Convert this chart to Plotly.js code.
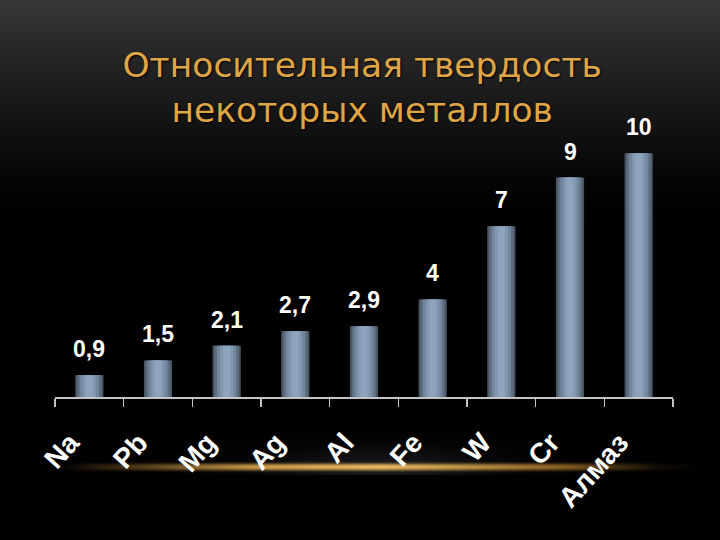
<!DOCTYPE html>
<html>
<head>
<meta charset="utf-8">
<script src="https://cdn.plot.ly/plotly-3.0.1.min.js"></script>
<style>
  html, body { margin:0; padding:0; width:720px; height:540px; overflow:hidden; background:#000; }
  #bg { position:absolute; left:0; top:0; width:720px; height:540px;
        background: linear-gradient(to bottom, #363636 0px, #1c1c1c 90px, #050505 175px, #000 220px); }
  #haze { position:absolute; left:150px; top:405px; width:460px; height:70px;
          background: radial-gradient(ellipse 50% 60% at 50% 90%, rgba(80,80,80,0.35), rgba(35,35,35,0.12) 60%, rgba(0,0,0,0) 100%); }
  #glow { position:absolute; left:60px; top:464px; width:640px; height:6px;
          background: linear-gradient(to right, rgba(120,80,20,0) 0%, rgba(150,105,40,0.45) 10%, rgba(225,170,80,0.9) 30%, rgba(240,190,100,1) 50%, rgba(200,140,50,0.7) 78%, rgba(100,70,20,0.2) 93%, rgba(0,0,0,0) 100%);
          filter: blur(1.5px); }
  #plot { position:absolute; left:0; top:0; width:720px; height:540px; }
</style>
</head>
<body>
<div id="bg"></div>
<div id="haze"></div>
<div id="glow"></div>
<div id="plot"></div>
<script>
// ---- data ----
const categories = ["Na", "Pb", "Mg", "Ag", "Al", "Fe", "W", "Cr", "Алмаз"];
const hardness   = [0.9, 1.5, 2.1, 2.7, 2.9, 4, 7, 9, 10];
const titleLines = ["Относительная твердость", "некоторых металлов"];

// ---- metallic bar look: overlaid bars of decreasing width ----
const layers = [
  {w: 0.41, c: "#4b5665"},
  {w: 0.35, c: "#5f6f82"},
  {w: 0.28, c: "#72869d"},
  {w: 0.19, c: "#8297b0"},
  {w: 0.10, c: "#8ea4bd"}
];
const traces = layers.map(l => ({
  type: "bar",
  x: categories,
  y: hardness,
  width: l.w,
  marker: {color: l.c, line: {width: 0}},
  hoverinfo: "skip",
  showlegend: false
}));

const annotations = categories.map((c, i) => ({
  x: c, y: hardness[i], xref: "x", yref: "y",
  text: String(hardness[i]).replace(".", ","),
  showarrow: false, yanchor: "bottom", yshift: 11,
  font: {family: "Liberation Sans, Arial, sans-serif", size: 23, color: "#ffffff", weight: 700}
}));

const layout = {
  width: 720, height: 540,
  paper_bgcolor: "rgba(0,0,0,0)",
  plot_bgcolor: "rgba(0,0,0,0)",
  margin: {l: 55, r: 47, t: 141, b: 143, pad: 0},
  barmode: "overlay",
  title: {
    text: titleLines.join("<br>"),
    font: {family: "DejaVu Sans, Verdana, sans-serif", size: 34.5, color: "#e0a645",
           shadow: "1px 1px 2px #000"},
    x: 0.503, xref: "container", xanchor: "center",
    y: 1 - 77/540, yref: "container", yanchor: "middle"
  },
  xaxis: {
    type: "category",
    range: [-0.5, 8.5],
    showline: true, linecolor: "#c4c4c4", linewidth: 2,
    ticks: "outside", tickson: "boundaries", ticklen: 8, tickwidth: 1.5, tickcolor: "#c4c4c4",
    tickangle: -48,
    ticklabelstandoff: 16,
    ticklabelshift: -19,
    tickfont: {family: "Liberation Sans, Arial, sans-serif", size: 28, color: "#ffffff", weight: 700},
    showgrid: false, zeroline: false, fixedrange: true
  },
  yaxis: {
    range: [0, 10.5],
    visible: false, showgrid: false, zeroline: false, fixedrange: true
  },
  annotations: annotations
};

Plotly.newPlot("plot", traces, layout, {displayModeBar: false, staticPlot: true});
</script>
</body>
</html>
